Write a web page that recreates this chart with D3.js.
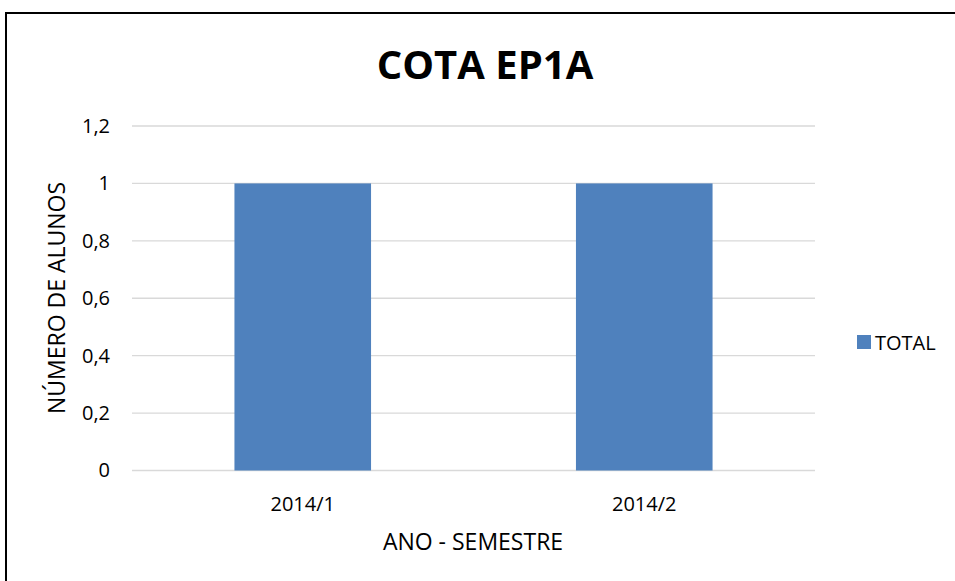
<!DOCTYPE html>
<html lang="pt">
<head>
<meta charset="UTF-8">
<title>COTA EP1A</title>
<script src="https://d3js.org/d3.v7.min.js"></script>
<style>
  body { margin: 0; padding: 0; background: #fff; overflow: hidden; }
  svg { display: block; font-family: 'Open Sans', sans-serif; }
  .grid line { stroke: #d9d9d9; stroke-width: 1.3; }
  .tick text { fill: #000; font-size: 20px; font-family: 'Open Sans', sans-serif; }
</style>
</head>
<body>
<svg width="955" height="581"></svg>
<script>
  // dados
  const categories = ["2014/1", "2014/2"];
  const totals = [1, 1];
  const yTicks = [0, 0.2, 0.4, 0.6, 0.8, 1, 1.2];
  const seriesName = "TOTAL";

  const svg = d3.select("svg");
  const plotLeft = 132, plotRight = 815, plotTop = 126, plotBottom = 470.5;

  // moldura: só o topo e a esquerda aparecem no recorte
  svg.append("path")
    .attr("d", "M6,581V13H955")
    .attr("fill", "none").attr("stroke", "#000").attr("stroke-width", 2);

  const x = d3.scaleBand().domain(categories).range([plotLeft, plotRight]).paddingInner(0.6).paddingOuter(0.3);
  const y = d3.scaleLinear().domain([0, 1.2]).range([plotBottom, plotTop]);
  const fmt = d => String(d).replace(".", ",");

  // linhas de grade
  svg.append("g").attr("class", "grid")
    .selectAll("line").data(yTicks).enter().append("line")
    .attr("x1", plotLeft).attr("x2", plotRight)
    .attr("y1", d => y(d)).attr("y2", d => y(d));

  // eixo y
  const yAxis = svg.append("g")
    .attr("transform", `translate(${plotLeft},0)`)
    .call(d3.axisLeft(y).tickValues(yTicks).tickFormat(fmt).tickSize(0).tickPadding(22));
  yAxis.select(".domain").remove();

  // barras
  svg.selectAll("rect.bar").data(totals).enter().append("rect")
    .attr("class", "bar")
    .attr("x", (d, i) => x(categories[i]))
    .attr("width", x.bandwidth())
    .attr("y", d => y(d))
    .attr("height", d => y(0) - y(d))
    .attr("fill", "#4f81bd");

  // eixo x
  const xAxis = svg.append("g")
    .attr("transform", `translate(0,${plotBottom})`)
    .call(d3.axisBottom(x).tickSize(0).tickPadding(26));
  xAxis.select(".domain").remove();

  // títulos
  svg.append("text")
    .attr("x", 485).attr("y", 79)
    .attr("text-anchor", "middle")
    .attr("font-size", 40).attr("font-weight", "bold")
    .text("COTA EP1A");

  svg.append("text")
    .attr("x", 473).attr("y", 550)
    .attr("text-anchor", "middle")
    .attr("font-size", 23)
    .text("ANO - SEMESTRE");

  svg.append("text")
    .attr("transform", "translate(65,298) rotate(-90)")
    .attr("text-anchor", "middle")
    .attr("font-size", 23)
    .text("NÚMERO DE ALUNOS");

  // legenda
  const legend = svg.append("g").attr("transform", "translate(857,335)");
  legend.append("rect").attr("width", 14).attr("height", 14).attr("fill", "#4f81bd");
  legend.append("text").attr("x", 18).attr("y", 14.5).attr("font-size", 20).text(seriesName);
</script>
</body>
</html>
